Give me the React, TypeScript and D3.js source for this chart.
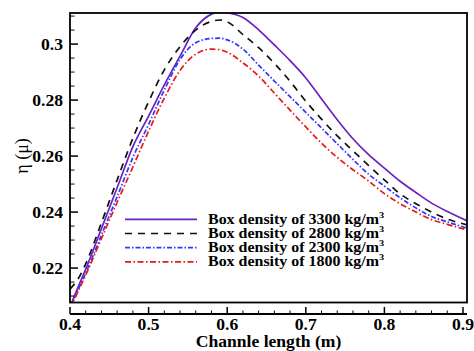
import React from "react";
import * as d3 from "d3";

const xs = [0.40,0.41,0.42,0.44,0.46,0.48,0.50,0.52,0.54,0.56,0.58,0.59,0.60,0.62,0.64,0.66,0.68,0.70,0.72,0.74,0.76,0.78,0.80,0.82,0.84,0.86,0.88,0.906];

const d3300 = [0.2062,0.2130,0.2196,0.2341,0.2487,0.2634,0.2743,0.2854,0.2957,0.3058,0.3107,0.3115,0.3112,0.3095,0.3051,0.2997,0.2941,0.2879,0.2804,0.2730,0.2662,0.2605,0.2557,0.2510,0.2470,0.2432,0.2402,0.2368];
const d2800 = [0.2125,0.2160,0.2215,0.2362,0.2515,0.2664,0.2794,0.2908,0.2991,0.3050,0.3081,0.3086,0.3080,0.3034,0.2987,0.2931,0.2867,0.2796,0.2732,0.2672,0.2619,0.2566,0.2515,0.2465,0.2430,0.2400,0.2375,0.2354];
const d2300 = [0.2058,0.2120,0.2182,0.2318,0.2455,0.2595,0.2713,0.2836,0.2945,0.3005,0.3020,0.3021,0.3015,0.2982,0.2925,0.2868,0.2812,0.2756,0.2700,0.2644,0.2588,0.2535,0.2493,0.2451,0.2415,0.2384,0.2365,0.2342];
const d1800 = [0.2055,0.2115,0.2175,0.2305,0.2435,0.2561,0.2689,0.2807,0.2906,0.2964,0.2982,0.2980,0.2971,0.2933,0.2886,0.2825,0.2764,0.2704,0.2646,0.2595,0.2551,0.2511,0.2466,0.2430,0.2400,0.2373,0.2356,0.2336];

const seriesNames = ["Box density of 3300 kg/m", "Box density of 2800 kg/m", "Box density of 2300 kg/m", "Box density of 1800 kg/m"];
const seriesColors = ["#6a22c0", "#111111", "#3535ff", "#e81818"];
const seriesDash = ["none", "7,6", "5,2,1.5,2", "6,2.5,1.5,2.5"];

const xMajor = [0.4, 0.5, 0.6, 0.7, 0.8, 0.9];
const xMajorLabels = ["0.4", "0.5", "0.6", "0.7", "0.8", "0.9"];
const yMajor = [0.22, 0.24, 0.26, 0.28, 0.30];
const yMajorLabels = ["0.22", "0.24", "0.26", "0.28", "0.3"];

export default function App() {
  const W = 474, H = 351;
  const left = 70, right = 467, top = 13, bottom = 302.5;
  const axisY = 314;
  const x = d3.scaleLinear().domain([0.4, 0.9051]).range([left, right]);
  const y = d3.scaleLinear().domain([0.2077, 0.3111]).range([bottom, top]);
  const xMinor = d3.range(0.4, 0.905, 0.02).filter(v => Math.abs(v * 10 - Math.round(v * 10)) > 1e-6);
  const yMinor = d3.range(0.21, 0.3111, 0.005).filter(v => Math.abs(v * 50 - Math.round(v * 50)) > 1e-6);
  const line = d3.line<number>().x((_, i) => x(xs[i])).y(d => y(d)).curve(d3.curveMonotoneX);
  const all = [d3300, d2800, d2300, d1800];
  const font = "'Liberation Serif', 'Times New Roman', serif";
  const sx = 1.1;
  return (
    <svg width={W} height={H} style={{ position: "absolute", left: 0, top: 0, background: "#fff" }}>
      <defs>
        <clipPath id="plotclip">
          <rect x={left} y={top} width={right - left} height={bottom - top} />
        </clipPath>
      </defs>
      <g clipPath="url(#plotclip)">
        {all.map((s, i) => (
          <path key={i} d={line(s) || ""} fill="none" stroke={seriesColors[i]} strokeWidth={1.7} strokeDasharray={seriesDash[i]} />
        ))}
      </g>
      <rect x={left} y={top} width={right - left} height={bottom - top} fill="none" stroke="#000" strokeWidth={1.8} />
      {yMajor.map((v, i) => (
        <g key={"ym" + i}>
          <line x1={left} x2={left + 8} y1={y(v)} y2={y(v)} stroke="#000" strokeWidth={1.5} />
          <text transform={`translate(${left - 7},${y(v) + 5.5}) scale(${sx},1)`} textAnchor="end" fontFamily={font} fontWeight="bold" fontSize={16}>{yMajorLabels[i]}</text>
        </g>
      ))}
      {yMinor.map((v, i) => (
        <line key={"yn" + i} x1={left} x2={left + 4.5} y1={y(v)} y2={y(v)} stroke="#000" strokeWidth={1} />
      ))}
      <line x1={left} x2={right} y1={axisY} y2={axisY} stroke="#000" strokeWidth={1.8} />
      {xMajor.map((v, i) => (
        <g key={"xm" + i}>
          <line x1={x(v)} x2={x(v)} y1={axisY} y2={axisY - 7} stroke="#000" strokeWidth={1.5} />
          <text transform={`translate(${x(v)},${axisY + 16}) scale(${sx},1)`} textAnchor="middle" fontFamily={font} fontWeight="bold" fontSize={16}>{xMajorLabels[i]}</text>
        </g>
      ))}
      {xMinor.map((v, i) => (
        <line key={"xn" + i} x1={x(v)} x2={x(v)} y1={axisY} y2={axisY - 3.5} stroke="#000" strokeWidth={1} />
      ))}
      <text transform={`translate(${(left + right) / 2},${347}) scale(${sx},1)`} textAnchor="middle" fontFamily={font} fontWeight="bold" fontSize={16}>Channle length (m)</text>
      <text transform={`translate(${28},${156}) rotate(-90)`} textAnchor="middle" fontFamily={font} fontSize={18}>η (μ)</text>
      {seriesNames.map((n, i) => {
        const ly = 219.3 + i * 14.2;
        return (
          <g key={"lg" + i}>
            <line x1={125} x2={197} y1={ly} y2={ly} stroke={seriesColors[i]} strokeWidth={1.7} strokeDasharray={seriesDash[i]} />
            <text transform={`translate(208,${ly + 4.5}) scale(1.14,1)`} fontFamily={font} fontWeight="bold" fontSize={14}>
              {n}<tspan fontSize={9} dy={-6}>3</tspan>
            </text>
          </g>
        );
      })}
    </svg>
  );
}
